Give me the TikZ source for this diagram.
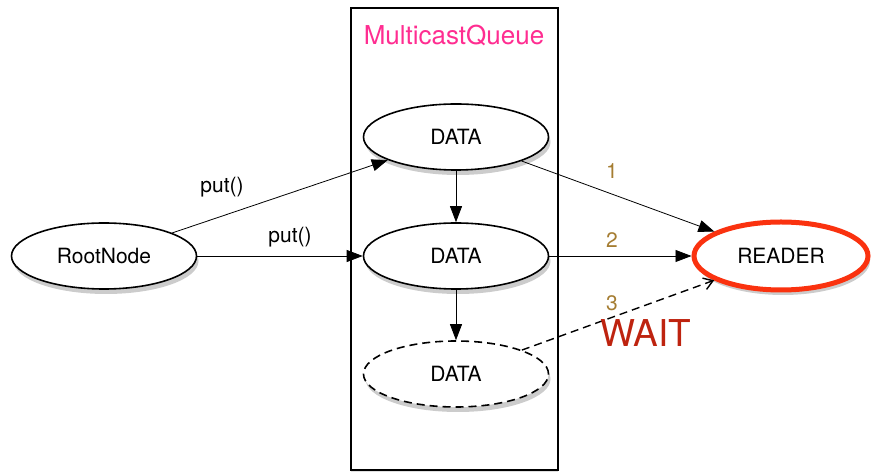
\documentclass[tikz,border=0pt]{standalone}
\usepackage{fontspec}
\setmainfont{TeX Gyre Heros}
\usetikzlibrary{shapes.geometric,arrows.meta,shadows}

\definecolor{titlepink}{RGB}{255,45,145}
\definecolor{readerred}{RGB}{250,50,15}
\definecolor{waitred}{RGB}{190,35,15}
\definecolor{stepgold}{RGB}{165,125,50}

\tikzset{
  blob/.style={ellipse, draw, line width=1.6pt, fill=white, minimum width=185pt,
    minimum height=66pt, inner sep=0pt, font=\fontsize{21}{23}\selectfont,
    drop shadow={opacity=0.4, shadow xshift=2pt, shadow yshift=-5pt}},
  arr/.style={-{Triangle[length=16pt,width=12pt]}, line width=0.8pt},
  lbl/.style={font=\fontsize{21}{23}\selectfont},
  num/.style={text=stepgold, font=\fontsize{21}{23}\selectfont}
}

\begin{document}
\begin{tikzpicture}[x=1pt,y=1pt]
    \useasboundingbox (0,0) rectangle (872,473);
    \node[draw, line width=1.6pt, fill=white, minimum width=207pt, minimum height=462pt,
      drop shadow={opacity=0.25, shadow xshift=0pt, shadow yshift=-2pt}]
      (queue) at (454.5,234) {}; % queue box
    \node[text=titlepink, font=\fontsize{26}{28}\selectfont] (title) at (454,438) {MulticastQueue};
    \node[blob] (d1) at (456,336) {DATA}; % head
    \node[blob] (d2) at (456,217) {DATA};
    \node[blob, dash pattern=on 8pt off 5pt] (d3) at (456,99) {DATA}; % not yet put
    \node[blob] (root) at (104,217) {RootNode};
    \node[blob, draw=readerred, line width=5pt, minimum width=174pt, minimum height=68pt]
      (reader) at (781,217) {READER};
    \draw[arr] (root) -- (d1); % put into queue
    \draw[arr] (root) -- (d2);
    \draw[arr] (d1) -- (d2); % next
    \draw[arr] (d2) -- (d3);
    \draw[arr] (d1) -- (reader); % reads
    \draw[arr] (d2) -- (reader);
    \draw[-{Straight Barb[length=9pt,width=12pt]}, line width=1.4pt, dash pattern=on 8pt off 5pt]
      (d3) -- (reader); % waits
    \node[lbl] (put1) at (222,286) {put()};
    \node[lbl] (put2) at (290,236) {put()};
    \node[num] (n1) at (612,302) {1};
    \node[num] (n2) at (612,233) {2};
    \node[num] (n3) at (612,170) {3};
    \node[text=waitred, font=\fontsize{37}{39}\selectfont] (wait) at (646,140) {WAIT};
\end{tikzpicture}
\end{document}
